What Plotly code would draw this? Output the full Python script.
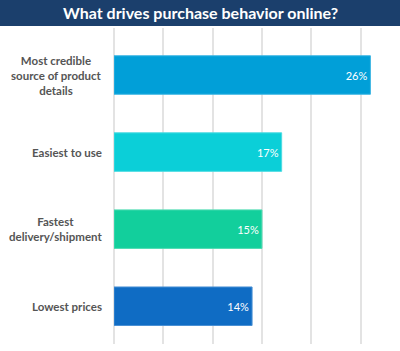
import plotly.graph_objects as go

categories = ["Most credible<br>source of product<br>details", "Easiest to use",
              "Fastest<br>delivery/shipment", "Lowest prices"]
values = [26, 17, 15, 14]
labels = ["26%", "17%", "15%", "14%"]
colors = ["#019fd8", "#0bcfd8", "#12cf9c", "#0f6cc4"]
line_colors = ["#3fb6e3", "#4ddbe2", "#4fdcb3", "#4a90d4"]
title = "What drives purchase behavior online?"

fig = go.Figure(go.Bar(
    x=values, y=categories, orientation="h",
    marker=dict(color=colors, line=dict(color=line_colors, width=1)),
    text=labels, textposition="inside", insidetextanchor="end",
    textfont=dict(color="white", size=11, family="Lato"),
    width=0.5, hoverinfo="skip",
))

H = 316
fig.update_layout(
    width=400, height=351,
    margin=dict(l=114, r=0, t=28, b=7),
    paper_bgcolor="white", plot_bgcolor="white",
    showlegend=False,
    xaxis=dict(range=[0, 29], dtick=5, showgrid=True, gridcolor="#e3e3e3", gridwidth=1.5,
               zeroline=True, zerolinecolor="#e3e3e3", zerolinewidth=1.5,
               showticklabels=False, ticks=""),
    yaxis=dict(type="category", range=[3.49, -0.61], showticklabels=False, showgrid=False,
               ticks="", zeroline=False),
    shapes=[dict(type="rect", xref="paper", yref="paper", x0=-114/286, x1=1,
                 y0=1 + 2/H, y1=1 + 28/H, fillcolor="#1b3f6c", line=dict(width=0), layer="above")],
)
fig.add_annotation(xref="paper", yref="paper", x=(200-114)/286, y=1 + 15/H,
                   text="<b>" + title + "</b>", showarrow=False, xanchor="center", yanchor="middle",
                   font=dict(color="white", size=16, family="Lato"))
for c in categories:
    fig.add_annotation(xref="paper", yref="y", x=0, y=c, xanchor="right", xshift=-10,
                       text=c, align="center", showarrow=False,
                       font=dict(color="#555555", size=11.5, family="Lato", weight="bold"))

fig.write_html("out.html")
